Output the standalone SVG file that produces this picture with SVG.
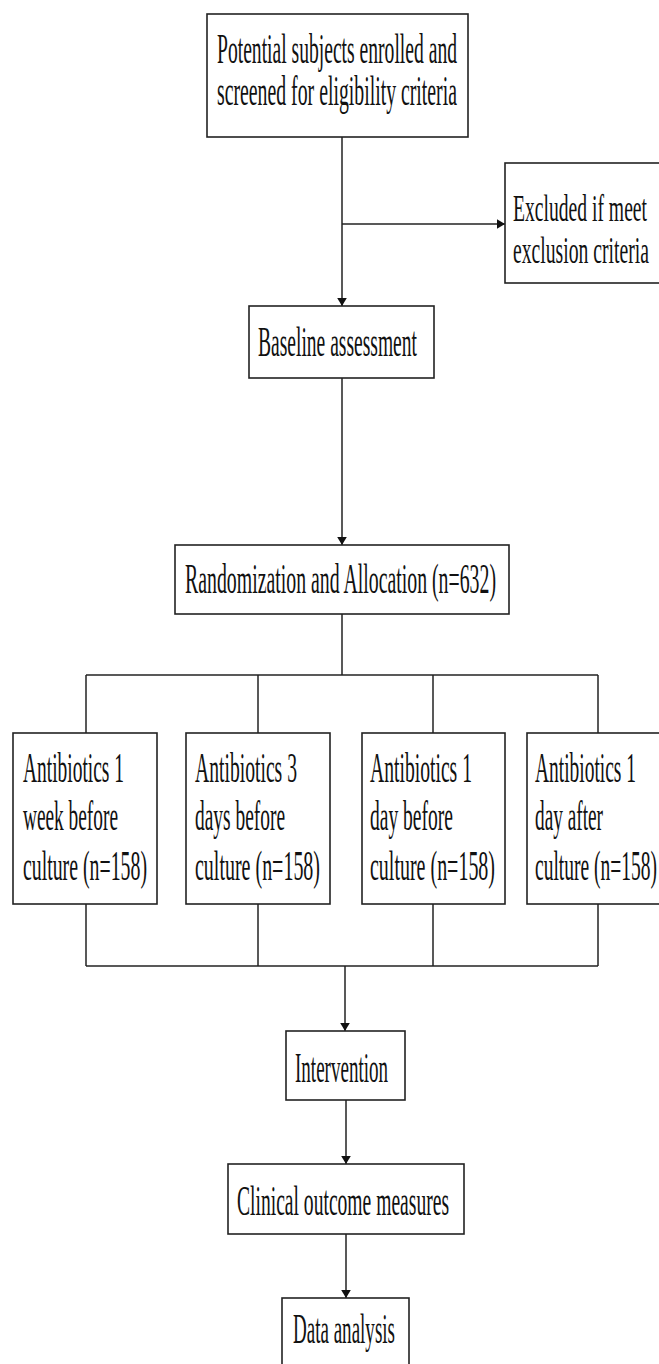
<svg xmlns="http://www.w3.org/2000/svg" width="659" height="1364" viewBox="0 0 659 1364">
<style>
.box{fill:#fff;stroke:#222;stroke-width:1.6}
.ln{fill:none;stroke:#222;stroke-width:1.5}
text{font-family:"Liberation Serif","Times New Roman",serif;font-size:42px;fill:#111}
.sm{font-size:38px}
</style>
<defs>
<marker id="ah" viewBox="0 0 10 12" refX="10" refY="6" markerWidth="8" markerHeight="10" markerUnits="userSpaceOnUse" orient="auto">
<path d="M0,0 L10,6 L0,12 Z" fill="#111"/>
</marker>
</defs>
<rect width="659" height="1364" fill="#fff"/>
<g id="connectors">
<line class="ln" x1="342" y1="137" x2="342" y2="306" marker-end="url(#ah)"/>
<line class="ln" x1="342" y1="224" x2="505" y2="224" marker-end="url(#ah)"/>
<line class="ln" x1="342" y1="378" x2="342" y2="545" marker-end="url(#ah)"/>
<line class="ln" x1="342" y1="614" x2="342" y2="675"/>
<line class="ln" x1="86" y1="675" x2="598" y2="675"/>
<line class="ln" x1="86" y1="675" x2="86" y2="733"/>
<line class="ln" x1="258" y1="675" x2="258" y2="733"/>
<line class="ln" x1="433" y1="675" x2="433" y2="733"/>
<line class="ln" x1="598" y1="675" x2="598" y2="733"/>
<line class="ln" x1="86" y1="904" x2="86" y2="966"/>
<line class="ln" x1="258" y1="904" x2="258" y2="966"/>
<line class="ln" x1="433" y1="904" x2="433" y2="966"/>
<line class="ln" x1="598" y1="904" x2="598" y2="966"/>
<line class="ln" x1="86" y1="966" x2="598" y2="966"/>
<line class="ln" x1="345" y1="966" x2="345" y2="1031" marker-end="url(#ah)"/>
<line class="ln" x1="346" y1="1100" x2="346" y2="1164" marker-end="url(#ah)"/>
<line class="ln" x1="346" y1="1234" x2="346" y2="1298" marker-end="url(#ah)"/>
</g>
<g id="screen">
<rect class="box" x="207" y="14" width="261" height="123"/>
<text transform="translate(217,63) scale(0.47,1)" textLength="510.6" lengthAdjust="spacingAndGlyphs">Potential subjects enrolled and</text>
<text transform="translate(217,105) scale(0.47,1)" textLength="510.6" lengthAdjust="spacingAndGlyphs">screened for eligibility criteria</text>
</g>
<g id="excluded">
<rect class="box" x="505" y="163" width="170" height="120"/>
<text class="sm" transform="translate(513,221) scale(0.47,1)" textLength="285.1" lengthAdjust="spacingAndGlyphs">Excluded if meet</text>
<text class="sm" transform="translate(513,263) scale(0.47,1)" textLength="289.4" lengthAdjust="spacingAndGlyphs">exclusion criteria</text>
</g>
<g id="baseline">
<rect class="box" x="249" y="306" width="185" height="72"/>
<text transform="translate(258,356) scale(0.47,1)" textLength="338.3" lengthAdjust="spacingAndGlyphs">Baseline assessment</text>
</g>
<g id="randomization">
<rect class="box" x="175" y="545" width="334" height="69"/>
<text transform="translate(185,593) scale(0.47,1)" textLength="661.7" lengthAdjust="spacingAndGlyphs">Randomization and Allocation (n=632)</text>
</g>
<g id="arm1">
<rect class="box" x="13" y="733" width="144" height="171"/>
<text transform="translate(23,782) scale(0.47,1)" textLength="214.9" lengthAdjust="spacingAndGlyphs">Antibiotics 1</text>
<text transform="translate(23,830) scale(0.47,1)" textLength="202.1" lengthAdjust="spacingAndGlyphs">week before</text>
<text transform="translate(23,880) scale(0.47,1)" textLength="263.8" lengthAdjust="spacingAndGlyphs">culture (n=158)</text>
</g>
<g id="arm2">
<rect class="box" x="186" y="733" width="144" height="171"/>
<text transform="translate(195,782) scale(0.47,1)" textLength="217" lengthAdjust="spacingAndGlyphs">Antibiotics 3</text>
<text transform="translate(195,830) scale(0.47,1)" textLength="191.5" lengthAdjust="spacingAndGlyphs">days before</text>
<text transform="translate(195,880) scale(0.47,1)" textLength="266" lengthAdjust="spacingAndGlyphs">culture (n=158)</text>
</g>
<g id="arm3">
<rect class="box" x="362" y="733" width="143" height="171"/>
<text transform="translate(370,782) scale(0.47,1)" textLength="217" lengthAdjust="spacingAndGlyphs">Antibiotics 1</text>
<text transform="translate(370,830) scale(0.47,1)" textLength="176.6" lengthAdjust="spacingAndGlyphs">day before</text>
<text transform="translate(370,880) scale(0.47,1)" textLength="266" lengthAdjust="spacingAndGlyphs">culture (n=158)</text>
</g>
<g id="arm4">
<rect class="box" x="527" y="733" width="144" height="171"/>
<text transform="translate(535,782) scale(0.47,1)" textLength="214.9" lengthAdjust="spacingAndGlyphs">Antibiotics 1</text>
<text transform="translate(535,830) scale(0.47,1)" textLength="144.7" lengthAdjust="spacingAndGlyphs">day after</text>
<text transform="translate(535,880) scale(0.47,1)" textLength="259.6" lengthAdjust="spacingAndGlyphs">culture (n=158)</text>
</g>
<g id="intervention">
<rect class="box" x="286" y="1031" width="119" height="69"/>
<text transform="translate(295,1082) scale(0.47,1)" textLength="197.9" lengthAdjust="spacingAndGlyphs">Intervention</text>
</g>
<g id="outcome">
<rect class="box" x="228" y="1164" width="236" height="70"/>
<text transform="translate(237,1215) scale(0.47,1)" textLength="451.1" lengthAdjust="spacingAndGlyphs">Clinical outcome measures</text>
</g>
<g id="analysis">
<rect class="box" x="282" y="1298" width="127" height="80"/>
<text transform="translate(293,1343) scale(0.47,1)" textLength="217" lengthAdjust="spacingAndGlyphs">Data analysis</text>
</g>
</svg>
